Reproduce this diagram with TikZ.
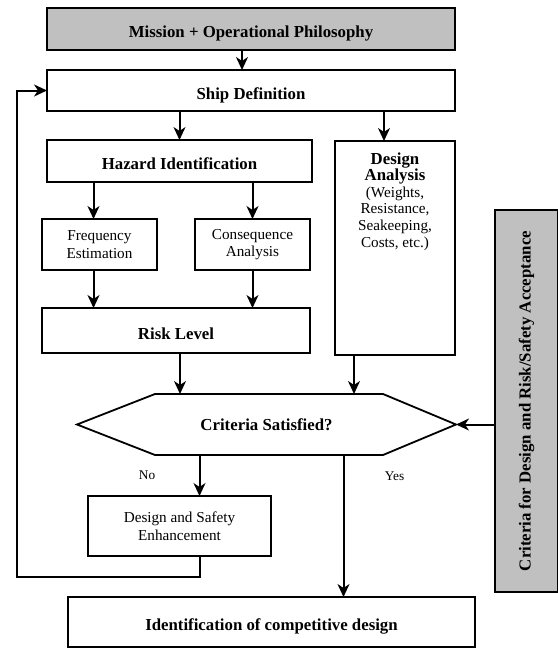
\documentclass[tikz,border=0pt]{standalone}
\usepackage{fontspec}
\setmainfont{Liberation Serif}
\usepackage{graphicx}
\usetikzlibrary{arrows.meta, positioning}
\definecolor{panelgray}{RGB}{192,192,192}

\begin{document}
\begin{tikzpicture}[
    node distance=20pt and 20pt,
    heading/.style={draw, line width=2.6pt, outer sep=0pt, align=center, text height=17pt, text depth=0pt, font=\bfseries\fontsize{16.8}{18}\selectfont},
    plain/.style={draw, line width=1.6pt, outer sep=0pt, align=center, font=\fontsize{15.2}{17.5}\selectfont},
    shaded/.style={heading, fill=panelgray},
    panel/.style={draw, fill=panelgray, line width=1.4pt, outer sep=0pt, font=\bfseries\fontsize{16.8}{18}\selectfont},
    answer/.style={font=\fontsize{13.3}{15}\selectfont},
    arrow/.style={-{Stealth[length=13pt, width=12pt, inset=4pt]}, line width=2pt}
]
\useasboundingbox (0,0) rectangle (557pt,-648pt);

% top of the chain
\node[shaded, minimum width=408pt, minimum height=42pt] (mission) at (251pt,-29pt) {Mission + Operational Philosophy};
\node[heading, minimum width=408pt, minimum height=41pt, below=20pt of mission] (ship) {Ship Definition};

% risk branch
\node[heading, minimum width=265pt, minimum height=42pt, below right=29pt and 0pt of ship.south west] (hazard) {Hazard Identification};
\node[plain, minimum width=115pt, minimum height=51pt, below right=37pt and -5pt of hazard.south west] (freq) {Frequency\\Estimation};
\node[plain, minimum width=115pt, minimum height=51pt, below left=37pt and 2pt of hazard.south east] (cons) {Consequence\\Analysis};
\node[heading, minimum width=268pt, minimum height=45pt, below right=38pt and 0pt of freq.south west] (risk) {Risk Level};

% design branch
\node[plain, minimum width=120pt, minimum height=214pt, below left=30pt and 0pt of ship.south east,
      label={[anchor=north, yshift=-8pt, align=center, font=\fontsize{15.2}{16.6}\selectfont]north:{\textbf{\fontsize{16.8}{16.6}\selectfont Design}\\\textbf{\fontsize{16.8}{16.6}\selectfont Analysis}\\(Weights,\\Resistance,\\Seakeeping,\\Costs, etc.)}}] (analysis) {};

% decision
\node[minimum width=379pt, minimum height=61pt, outer sep=0pt, font=\bfseries\fontsize{16.8}{18}\selectfont, below right=41pt and 35pt of risk.south west] (crit) {Criteria Satisfied?};
\draw[line width=1.8pt] (crit.west) -- ([xshift=78pt]crit.north west) -- ([xshift=-73pt]crit.north east) -- (crit.east)
    -- ([xshift=-73pt]crit.south east) -- ([xshift=78pt]crit.south west) -- cycle;

% outcomes
\node[plain, minimum width=183pt, minimum height=60pt, below right=41pt and 11pt of crit.south west] (enh) {Design and Safety\\Enhancement};
\node[heading, line width=2.2pt, minimum width=407pt, minimum height=50pt, below right=41pt and -20pt of enh.south west] (final) {Identification of competitive design};

% criteria panel
\node[panel, minimum width=63pt, minimum height=382pt, below right=69pt and 40pt of analysis.north east] (accept) {\rotatebox{90}{Criteria for Design and Risk/Safety Acceptance}};

\draw[arrow] ([xshift=-9pt]mission.south) -- ([xshift=-9pt]mission.south |- ship.north);
\draw[arrow] (ship.south -| hazard.north) -- (hazard.north);
\draw[arrow] ([xshift=-11pt]analysis.north |- ship.south) -- ([xshift=-11pt]analysis.north);
\draw[arrow] ([xshift=-6pt]freq.north |- hazard.south) -- ([xshift=-6pt]freq.north);
\draw[arrow] (cons.north |- hazard.south) -- (cons.north);
\draw[arrow] ([xshift=-6pt]freq.south) -- ([xshift=-6pt]freq.south |- risk.north);
\draw[arrow] (cons.south) -- (cons.south |- risk.north);
\draw[arrow] ([xshift=4pt]risk.south) -- ([xshift=4pt]risk.south |- crit.north);
\draw[arrow] ([xshift=-41pt]analysis.south) -- ([xshift=-41pt]analysis.south |- crit.north);
\draw[arrow] (accept.west |- crit.east) -- (crit.east);
\draw[arrow] ([xshift=20pt]enh.north |- crit.south) -- node[answer, midway, left=40pt] {No} ([xshift=20pt]enh.north);
\draw[arrow] ([xshift=72pt]final.north |- crit.south) -- node[answer, pos=0.15, right=37pt] {Yes} ([xshift=72pt]final.north);
\draw[arrow] ([xshift=20pt]enh.south) -- ++(0,-21pt) -| ([xshift=-30pt]ship.west) -- (ship.west);

\end{tikzpicture}
\end{document}
